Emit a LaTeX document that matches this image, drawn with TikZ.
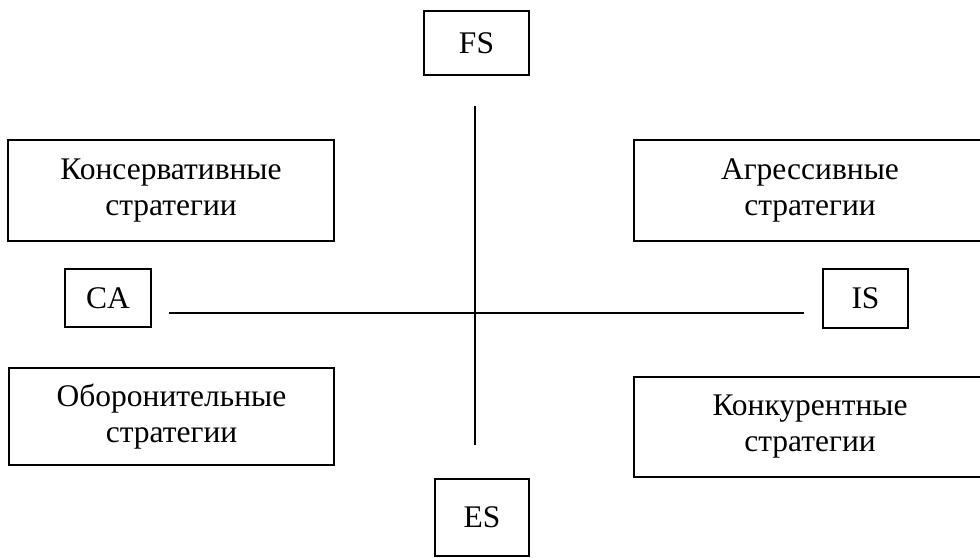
\documentclass[tikz,border=0pt]{standalone}
\usepackage{fontspec}
\setmainfont{Liberation Serif}
\begin{document}
\begin{tikzpicture}[x=1pt,y=-1pt,
  box/.style={draw, line width=2pt, inner sep=0pt, align=center, font=\fontsize{31.5}{36}\selectfont},
  axis/.style={line width=2pt}]
\useasboundingbox (0,0) rectangle (980,557);
\clip (0,0) rectangle (980,557);
\node[box, minimum width=105, minimum height=64] (fs) at (476.5,43) {FS};
\node[box, minimum width=326, minimum height=101] (kons) at (171,190.5) {Консервативные\\стратегии};
\node[box, minimum width=352, minimum height=101] (aggr) at (810,190.5) {Агрессивные\\стратегии};
\node[box, minimum width=86, minimum height=58] (ca) at (108,298) {CA};
\node[box, minimum width=85, minimum height=59] (is) at (865.5,298.5) {IS};
\node[box, minimum width=325, minimum height=97] (obor) at (171.5,416.5) {Оборонительные\\стратегии};
\node[box, minimum width=352, minimum height=100] (konk) at (810,427) {Конкурентные\\стратегии};
\node[box, minimum width=94, minimum height=77] (es) at (482,517.5) {ES};
\coordinate (vtop) at (475,106);
\coordinate (vbot) at (475,445);
\coordinate (hl) at (169,313);
\coordinate (hr) at (804,313);
\draw[axis] (vtop) -- (vbot);
\draw[axis] (hl) -- (hr);
\end{tikzpicture}
\end{document}
